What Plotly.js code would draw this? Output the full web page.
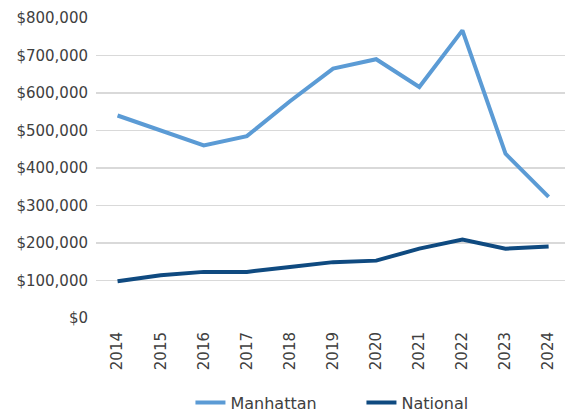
<!DOCTYPE html>
<html>
<head>
<meta charset="utf-8">
<script src="https://cdn.plot.ly/plotly-3.0.1.min.js"></script>
<style>html,body{margin:0;padding:0;background:#fff;}#chart{width:565px;height:415px;}</style>
</head>
<body>
<div id="chart"></div>
<script>
const years = ['2014','2015','2016','2017','2018','2019','2020','2021','2022','2023','2024'];
const manhattan = [540000, 501000, 460000, 485000, 578000, 665000, 690000, 616000, 767000, 438000, 323000];
const national = [98000, 114000, 123000, 123000, 136000, 149000, 153000, 185000, 209000, 185000, 191000];
const yTicks = [0, 100000, 200000, 300000, 400000, 500000, 600000, 700000, 800000];
const yTickText = ['$0','$100,000','$200,000','$300,000','$400,000','$500,000','$600,000','$700,000','$800,000'];

const font = {family: '"DejaVu Sans", sans-serif', size: 15, color: '#404040'};
const legendFont = {family: '"DejaVu Sans", sans-serif', size: 16, color: '#404040'};
const traces = [
  {x: years, y: manhattan, name: 'Manhattan', type: 'scatter', mode: 'lines',
   line: {color: '#5B9BD5', width: 4}},
  {x: years, y: national, name: 'National', type: 'scatter', mode: 'lines',
   line: {color: '#0F4A80', width: 4}}
];
const layout = {
  width: 565, height: 415,
  margin: {l: 96, r: 0, t: 18, b: 97},
  paper_bgcolor: '#fff', plot_bgcolor: '#fff',
  font: font,
  showlegend: true,
  legend: {orientation: 'h', x: 0.566, xanchor: 'center', yref: 'container', y: 0.03, yanchor: 'middle',
           font: legendFont, entrywidth: 126, entrywidthmode: 'pixels', itemwidth: 30},
  xaxis: {type: 'category', range: [-0.5, 10.38], tickangle: -90, showgrid: false, showline: false,
          zeroline: false, ticks: '', tickfont: font, ticklabelstandoff: 10},
  yaxis: {range: [0, 800000], tickvals: yTicks, ticktext: yTickText, showgrid: true,
          gridcolor: '#D9D9D9', gridwidth: 1.5, zeroline: false, showline: false, ticks: '',
          tickfont: font, ticklabelstandoff: 7}
};
Plotly.newPlot('chart', traces, layout, {displayModeBar: false, staticPlot: true});
</script>
</body>
</html>
